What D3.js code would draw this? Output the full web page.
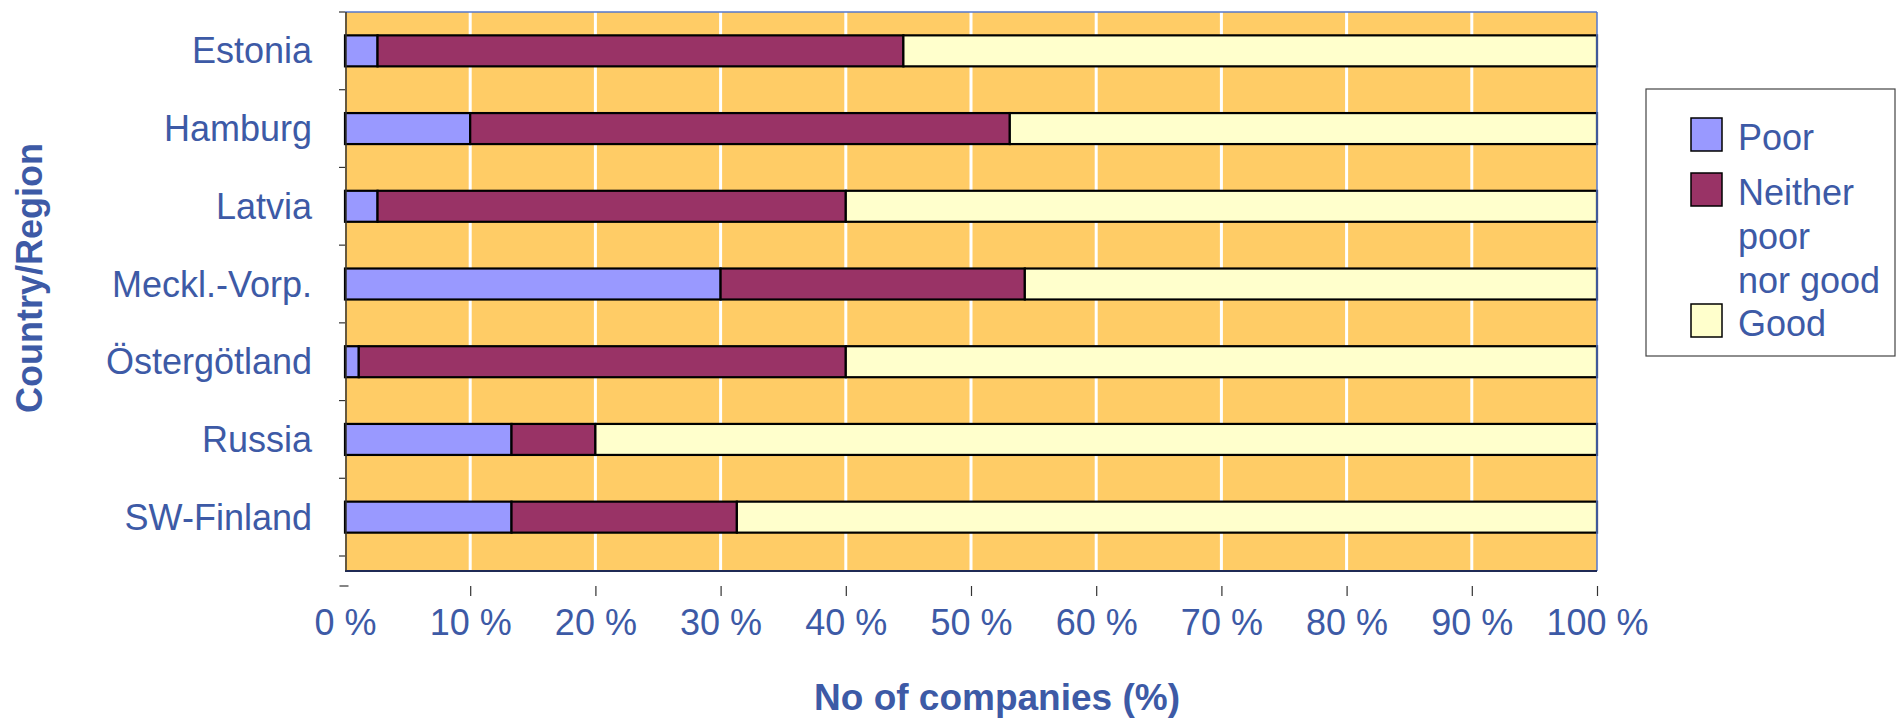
<!DOCTYPE html>
<html>
<head>
<meta charset="utf-8">
<script src="https://cdn.jsdelivr.net/npm/d3@7"></script>
<style>
  body { margin: 0; background: #fff; }
  text { font-family: Arial, "Liberation Sans", sans-serif; fill: #3d5aa6; }
</style>
</head>
<body>
<div id="chart"></div>
<script>
var svgWidth = 1896;
var svgHeight = 718;

// data (% of companies)
var categories = ["Estonia", "Hamburg", "Latvia", "Meckl.-Vorp.", "Östergötland", "Russia", "SW-Finland"];
var poor = [2.6, 10.0, 2.6, 30.0, 1.1, 13.3, 13.3];
var neither = [42.0, 43.1, 37.4, 24.3, 38.9, 6.7, 18.0];
var good = [55.4, 46.9, 60.0, 45.7, 60.0, 80.0, 68.7];
var seriesNames = ["Poor", "Neither poor nor good", "Good"];
var xTicks = [0, 10, 20, 30, 40, 50, 60, 70, 80, 90, 100];

var colors = ["#9999ff", "#993366", "#ffffcc"];

var plot = { left: 345, right: 1597, top: 12, bottom: 571 };

var svg = d3.select("#chart")
  .append("svg")
  .attr("width", svgWidth)
  .attr("height", svgHeight);

var rows = categories.map(function(c, i) {
  return { cat: c, Poor: poor[i], "Neither poor nor good": neither[i], Good: good[i] };
});

var xScale = d3.scaleLinear()
  .domain([0, 100])
  .range([plot.left, plot.right]);

var yScale = d3.scaleBand()
  .domain(categories)
  .range([plot.top, 556])
  .paddingInner(0)
  .paddingOuter(0);

var barH = 31;

// plot background
svg.append("rect")
  .attr("x", plot.left)
  .attr("y", plot.top)
  .attr("width", plot.right - plot.left)
  .attr("height", plot.bottom - plot.top)
  .attr("fill", "#ffcc66");

// gridlines
svg.append("g")
  .selectAll("line")
  .data(xTicks.filter(d => d > 0 && d < 100))
  .enter()
  .append("line")
  .attr("x1", d => xScale(d))
  .attr("x2", d => xScale(d))
  .attr("y1", plot.top)
  .attr("y2", plot.bottom)
  .attr("stroke", "#ffffff")
  .attr("stroke-width", 3);

// stacked bars
var stack = d3.stack().keys(seriesNames);
var layers = stack(rows);

svg.append("g")
  .selectAll("g")
  .data(layers)
  .enter()
  .append("g")
  .attr("fill", (d, i) => colors[i])
  .selectAll("rect")
  .data(d => d)
  .enter()
  .append("rect")
  .attr("x", d => xScale(d[0]))
  .attr("width", d => xScale(d[1]) - xScale(d[0]))
  .attr("y", d => yScale(d.data.cat) + yScale.bandwidth() / 2 - barH / 2)
  .attr("height", barH)
  .attr("stroke", "#000")
  .attr("stroke-width", 2.2);

// plot border
svg.append("line")
  .attr("x1", plot.left).attr("x2", plot.right)
  .attr("y1", plot.top).attr("y2", plot.top)
  .attr("stroke", "#5577cc").attr("stroke-width", 1.5);
svg.append("line")
  .attr("x1", plot.right).attr("x2", plot.right)
  .attr("y1", plot.top).attr("y2", plot.bottom)
  .attr("stroke", "#5577cc").attr("stroke-width", 1.5);
svg.append("line")
  .attr("x1", plot.left).attr("x2", plot.right)
  .attr("y1", plot.bottom).attr("y2", plot.bottom)
  .attr("stroke", "#1f2a55").attr("stroke-width", 2);
svg.append("line")
  .attr("x1", plot.left + 1).attr("x2", plot.left + 1)
  .attr("y1", plot.top).attr("y2", plot.bottom)
  .attr("stroke", "#333").attr("stroke-width", 1.5);

// y axis ticks at band boundaries
var yBounds = categories.map(c => yScale(c)).concat([yScale(categories[categories.length - 1]) + yScale.bandwidth()]);
svg.append("g")
  .selectAll("line")
  .data(yBounds)
  .enter()
  .append("line")
  .attr("x1", plot.left - 6)
  .attr("x2", plot.left)
  .attr("y1", d => d)
  .attr("y2", d => d)
  .attr("stroke", "#333")
  .attr("stroke-width", 1.2);

// y labels
svg.append("g")
  .selectAll("text")
  .data(categories)
  .enter()
  .append("text")
  .attr("x", 312)
  .attr("y", d => yScale(d) + yScale.bandwidth() / 2)
  .attr("dy", "0.35em")
  .attr("text-anchor", "end")
  .attr("font-size", "36px")
  .text(d => d);

// x axis (offset below the plot)
var bottomAxis = d3.axisBottom(xScale)
  .tickValues(xTicks)
  .tickSize(10)
  .tickFormat(d => d + " %");

var xAxis = svg.append("g")
  .attr("transform", "translate(0, 586)")
  .call(bottomAxis);

xAxis.select(".domain").remove();
xAxis.selectAll(".tick line").attr("stroke", "#333").attr("stroke-width", 1.2);
xAxis.selectAll(".tick").filter(d => d === 0).select("line")
  .attr("x1", -6).attr("x2", 3).attr("y1", 0).attr("y2", 0);
xAxis.selectAll(".tick text")
  .attr("y", 49)
  .attr("dy", 0)
  .attr("font-size", "36px")
  .attr("font-family", "Arial, 'Liberation Sans', sans-serif")
  .attr("fill", "#3d5aa6");

// axis titles
svg.append("text")
  .attr("x", 997)
  .attr("y", 710)
  .attr("text-anchor", "middle")
  .attr("font-size", "37px")
  .attr("font-weight", "bold")
  .text("No of companies (%)");

svg.append("text")
  .attr("transform", "translate(42, 278) rotate(-90)")
  .attr("text-anchor", "middle")
  .attr("font-size", "36px")
  .attr("font-weight", "bold")
  .text("Country/Region");

// legend
var legend = svg.append("g");
legend.append("rect")
  .attr("x", 1646)
  .attr("y", 89)
  .attr("width", 249)
  .attr("height", 267)
  .attr("fill", "#fff")
  .attr("stroke", "#444")
  .attr("stroke-width", 1.2);

var legendLines = [["Poor"], ["Neither", "poor", "nor good"], ["Good"]];
var legendY = [118, 173, 304];

legendLines.forEach(function(lines, i) {
  legend.append("rect")
    .attr("x", 1691)
    .attr("y", legendY[i])
    .attr("width", 31)
    .attr("height", 33)
    .attr("fill", colors[i])
    .attr("stroke", "#000")
    .attr("stroke-width", 1.5);
  var t = legend.append("text")
    .attr("x", 1738)
    .attr("y", legendY[i] + 32)
    .attr("font-size", "36px");
  lines.forEach(function(l, j) {
    t.append("tspan")
      .attr("x", 1738)
      .attr("dy", j === 0 ? 0 : 44)
      .text(l);
  });
});
</script>
</body>
</html>
